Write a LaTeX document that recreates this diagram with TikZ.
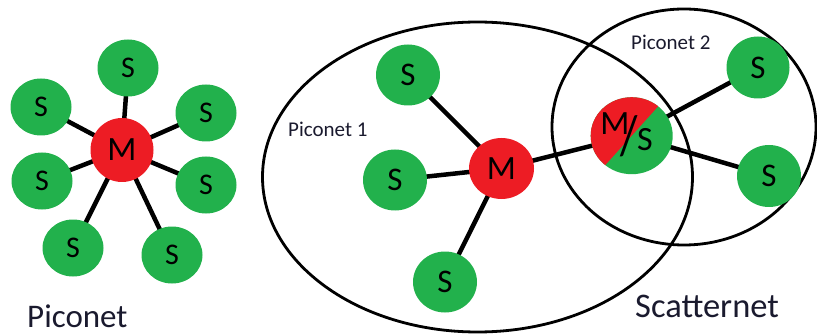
\documentclass[tikz,border=0pt]{standalone}
\usepackage{fontspec}
\setmainfont{Carlito}
\usetikzlibrary{shapes.geometric,backgrounds}
\definecolor{sgreen}{HTML}{22B14C}
\definecolor{mred}{HTML}{ED1C24}
\definecolor{labelc}{HTML}{1A1A2E}
\begin{document}
\begin{tikzpicture}[x=1pt,y=-1pt,
  slave/.style={ellipse,fill=sgreen,inner sep=0pt,minimum width=64pt,minimum height=62pt,font=\fontsize{33}{33}\selectfont},
  lslave/.style={slave,minimum width=61pt,minimum height=57pt,font=\fontsize{30}{30}\selectfont},
  master/.style={ellipse,fill=mred,inner sep=0pt,minimum width=64pt,minimum height=62pt,font=\fontsize{34}{34}\selectfont},
  link/.style={line width=4.5pt},
  net/.style={ellipse,draw,line width=2.8pt,inner sep=0pt},
  lbl/.style={inner sep=0pt,anchor=base west,text=labelc},
  mstext/.style={inner sep=0pt,font=\fontsize{34}{34}\selectfont}]
\useasboundingbox (0,0) rectangle (817,334);

% Left piconet
\node[master,minimum width=63pt,minimum height=64pt] (m0) at (122,150) {M};
\node[lslave] (l1) at (128,68) {S};
\node[lslave] (l2) at (41,107) {S};
\node[lslave] (l3) at (206,113) {S};
\node[lslave] (l4) at (42,181) {S};
\node[lslave] (l5) at (206,185) {S};
\node[lslave] (l6) at (73,248) {S};
\node[lslave] (l7) at (172,255) {S};
\node[lbl,font=\fontsize{33}{33}\selectfont] (t0) at (27,327) {Piconet};

% Scatternet outlines
\node[net,minimum width=430pt,minimum height=310pt] (p1) at (477.5,177) {};
\node[net,minimum width=264pt,minimum height=236pt] (p2) at (684,127) {};

% Piconet 1
\node[master,minimum width=65pt,minimum height=61pt] (m1) at (501.5,168.5) {M};
\node[slave,minimum height=61pt] (a1) at (408,75) {S};
\node[slave,minimum height=61pt] (a2) at (395,180) {S};
\node[slave,minimum height=61pt] (a3) at (445,282) {S};
\node[lbl,font=\fontsize{21}{21}\selectfont] (t1) at (288,137) {Piconet 1};

% Master/slave bridge node
\node[ellipse,inner sep=0pt,minimum width=82pt,minimum height=77pt,fill=sgreen,
  path picture={\fill[mred]
    ([shift={(45,-50)}]path picture bounding box.center) --
    ([shift={(-5,-95)}]path picture bounding box.center) --
    ([shift={(-95,5)}]path picture bounding box.center) --
    ([shift={(-45,50)}]path picture bounding box.center) -- cycle;}]
  (ms) at (631.7,135.7) {};
\node[mstext] (msm) at (615,123.5) {M};
\node[inner sep=0pt,font=\fontsize{56}{56}\selectfont] (mssl) at (629,136) {\scalebox{0.8}[1]{/}};
\node[mstext] (mss) at (645,140) {S};

% Piconet 2
\node[slave,minimum width=63pt] (b1) at (758,67.5) {S};
\node[slave] (b2) at (769,176) {S};
\node[lbl,font=\fontsize{21}{21}\selectfont] (t2) at (631,50) {Piconet 2};

\node[lbl,font=\fontsize{34.5}{34.5}\selectfont] (t3) at (635,317) {Scatternet};

\begin{scope}[on background layer]
  \foreach \s in {l1,l2,l3,l4,l5,l6,l7} \draw[link] (m0.center) -- (\s.center);
  \foreach \s in {a1,a2,a3} \draw[link] (m1.center) -- (\s.center);
  \draw[link] (m1.center) -- (ms.center);
  \draw[link] (ms.center) -- (b1.center);
  \draw[link] (ms.center) -- (b2.center);
\end{scope}
\end{tikzpicture}
\end{document}
